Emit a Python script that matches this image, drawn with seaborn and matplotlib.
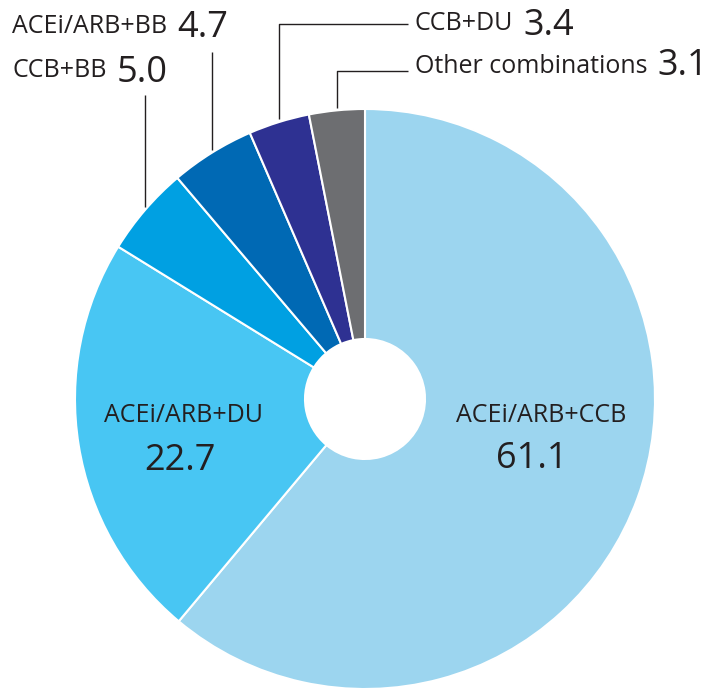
import numpy as np
import matplotlib
matplotlib.use("Agg")
import matplotlib.pyplot as plt
import seaborn as sns

categories = ["ACEi/ARB+CCB", "ACEi/ARB+DU", "CCB+BB", "ACEi/ARB+BB", "CCB+DU", "Other combinations"]
values = [61.1, 22.7, 5.0, 4.7, 3.4, 3.1]
value_labels = ["61.1", "22.7", "5.0", "4.7", "3.4", "3.1"]
colors = ["#9CD5EF", "#48C6F3", "#00A0E2", "#0069B4", "#2E3192", "#6D6E71"]

sns.set_theme(style="white")
plt.rcParams['font.family'] = ['Open Sans', 'DejaVu Sans']
TXT = "#231F20"
FS_LAB = 18
FS_NUM = 26

W, H = 714, 688
fig = plt.figure(figsize=(W / 100, H / 100), dpi=100)
ax = fig.add_axes([0, 0, 1, 1])

cx, cy, R, r_in = 365, H - 399, 290, 60
wedges, _ = ax.pie(values, colors=colors, startangle=90, counterclock=False,
                   center=(cx, cy), radius=R,
                   wedgeprops=dict(width=R - r_in, edgecolor="white", linewidth=1.5),
                   frame=True)
ax.set_xlim(0, W)
ax.set_ylim(0, H)
ax.set_aspect("equal")
ax.axis("off")

# inner labels
ax.text(541, H - 422, categories[0], ha="center", va="baseline", fontsize=FS_LAB, color=TXT)
ax.text(532, H - 468, value_labels[0], ha="center", va="baseline", fontsize=FS_NUM, color=TXT)
ax.text(184, H - 422, categories[1], ha="center", va="baseline", fontsize=FS_LAB, color=TXT)
ax.text(180, H - 470, value_labels[1], ha="center", va="baseline", fontsize=FS_NUM, color=TXT)


def edge_point(w):
    ang = np.deg2rad((w.theta1 + w.theta2) / 2)
    return cx + R * np.cos(ang), cy + R * np.sin(ang)


def label(xp, yb, yn, name, val):
    t1 = ax.text(xp, H - yb, name, ha="left", va="baseline", fontsize=FS_LAB, color=TXT)
    fig.canvas.draw()
    bb = t1.get_window_extent()
    ax.text(bb.x1 + 10, H - yn, val, ha="left", va="baseline", fontsize=FS_NUM, color=TXT)


line_kw = dict(color="#231F20", linewidth=1.0, solid_capstyle="butt")

# CCB+BB
x, y = edge_point(wedges[2])
ax.plot([x, x], [y + 3, H - 95], **line_kw)
label(12, 77, 82, categories[2], value_labels[2])

# ACEi/ARB+BB
x, y = edge_point(wedges[3])
ax.plot([x, x], [y + 3, H - 52], **line_kw)
label(12, 33, 37, categories[3], value_labels[3])

# CCB+DU
x, y = edge_point(wedges[4])
ax.plot([x, x, 408], [y + 3, H - 24, H - 24], **line_kw)
label(415, 30, 35, categories[4], value_labels[4])

# Other combinations
x, y = edge_point(wedges[5])
ax.plot([x, x, 408], [y + 2, H - 71, H - 71], **line_kw)
label(415, 73, 75, categories[5], value_labels[5])

fig.savefig("out.png", dpi=100)
